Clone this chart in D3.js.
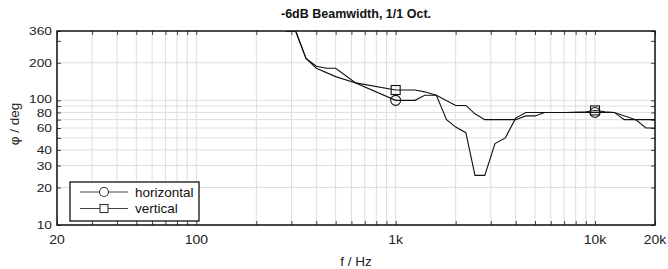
<!DOCTYPE html>
<html><head><meta charset="utf-8">
<script src="https://cdn.jsdelivr.net/npm/d3@7"></script>
<style>body{margin:0;background:#fff}svg{display:block}text{font-family:"Liberation Sans",Arial,sans-serif}</style>
</head><body><svg id="c" width="668" height="269"></svg>
<script>
const title = "-6dB Beamwidth, 1/1 Oct.";
const xLabel = "f / Hz";
const yLabel = "\u03c6 / deg";
const seriesNames = ["horizontal", "vertical"];
const freqH = [280,315,355,400,450,500,630,1000,1250,1400,1600,1800,2000,2250,2500,2800,3150,3550,4000,4500,5000,6300,8000,10000,12500,14000,16000,18000,20000];
const valH  = [360,360,217,188,181,181,138,100,100,110,110,70,61,55,25,25,45,50,72,80,80,80,80,80,80,70,70,60,60];
const freqV = [280,315,355,400,500,630,1000,1250,1400,1600,2000,2250,2500,2800,3150,3550,4000,4500,5000,5600,7100,9000,10000,11200,12500,16000,20000];
const valV  = [360,360,217,181,155,138,121,121,117,110,91,91,78,70,70,70,70,75,75,80,80,81,83,81,80,70,70];
const markerFreqs = [1000, 10000];
const xTickLabels = [[20,"20"],[100,"100"],[1000,"1k"],[10000,"10k"],[20000,"20k"]];
const yTickLabels = [10,20,30,40,60,80,100,200,360];
const xGrid = [20,30,40,50,60,70,80,90,100,200,300,400,500,600,700,800,900,1000,2000,3000,4000,5000,6000,7000,8000,9000,10000,20000];
const yGrid = [10,20,30,40,50,60,70,80,90,100,200];
const yTicks = [10,20,30,40,50,60,70,80,90,100,200,300,360];

const L=57,R=655,T=31,B=225;
const svg=d3.select("#c");
const x=d3.scaleLog().domain([20,20000]).range([L,R]);
const y=d3.scaleLog().domain([10,360]).range([B,T]);

// grid
svg.append("g").selectAll("line").data(xGrid).join("line")
  .attr("x1",d=>x(d)).attr("x2",d=>x(d)).attr("y1",T).attr("y2",B)
  .attr("stroke","#dedede").attr("stroke-width",1);
svg.append("g").selectAll("line").data(yGrid).join("line")
  .attr("x1",L).attr("x2",R).attr("y1",d=>y(d)).attr("y2",d=>y(d))
  .attr("stroke","#dedede").attr("stroke-width",1);

// inward ticks via axes
const tl=4;
svg.append("g").attr("transform",`translate(0,${B})`)
  .call(d3.axisTop(x).tickValues(xGrid).tickSize(tl).tickFormat(""))
  .call(g=>g.select(".domain").remove()).selectAll("line").attr("stroke","#444");
svg.append("g").attr("transform",`translate(0,${T})`)
  .call(d3.axisBottom(x).tickValues(xGrid).tickSize(tl).tickFormat(""))
  .call(g=>g.select(".domain").remove()).selectAll("line").attr("stroke","#444");
svg.append("g").attr("transform",`translate(${L},0)`)
  .call(d3.axisRight(y).tickValues(yTicks).tickSize(tl).tickFormat(""))
  .call(g=>g.select(".domain").remove()).selectAll("line").attr("stroke","#444");
svg.append("g").attr("transform",`translate(${R},0)`)
  .call(d3.axisLeft(y).tickValues(yTicks).tickSize(tl).tickFormat(""))
  .call(g=>g.select(".domain").remove()).selectAll("line").attr("stroke","#444");

// tick labels (wide, short glyphs like the reference)
const nudge=d=>d===100?-1.2:(d===80?0.6:0);
svg.append("g").selectAll("text").data(yTickLabels).join("text")
  .attr("transform",d=>`translate(52,${y(d)+nudge(d)}) scale(1.22,1)`)
  .attr("dy","0.36em").attr("text-anchor","end")
  .attr("font-size",11.3).attr("fill","#222").text(d=>d);
svg.append("g").selectAll("text").data(xTickLabels).join("text")
  .attr("transform",d=>`translate(${x(d[0])},243.5) scale(1.12,1)`).attr("text-anchor","middle")
  .attr("font-size",12.5).attr("fill","#222").text(d=>d[1]);

// clip
svg.append("clipPath").attr("id","clip").append("rect").attr("x",L).attr("y",T).attr("width",R-L).attr("height",B-T);

const line=d3.line().x(d=>x(d[0])).y(d=>y(d[1]));
const dataH=freqH.map((f,i)=>[f,valH[i]]);
const dataV=freqV.map((f,i)=>[f,valV[i]]);
const gl=svg.append("g").attr("clip-path","url(#clip)");
[dataH,dataV].forEach(d=>gl.append("path").datum(d).attr("d",line)
  .attr("fill","none").attr("stroke","#111").attr("stroke-width",1.1));

// markers
const valAt=(data,f)=>data.find(d=>d[0]===f)[1];
markerFreqs.forEach(f=>{
  svg.append("circle").attr("cx",x(f)).attr("cy",y(valAt(dataH,f))).attr("r",5)
    .attr("fill","none").attr("stroke","#111").attr("stroke-width",1.1);
  const s=9;
  svg.append("rect").attr("x",x(f)-s/2).attr("y",y(valAt(dataV,f))-s/2).attr("width",s).attr("height",s)
    .attr("fill","none").attr("stroke","#111").attr("stroke-width",1.1);
});

// frame
svg.append("rect").attr("x",L).attr("y",T).attr("width",R-L).attr("height",B-T)
  .attr("fill","none").attr("stroke","#111").attr("stroke-width",1.5);

// title & labels
svg.append("text").attr("x",(L+R)/2).attr("y",18).attr("text-anchor","middle")
  .attr("font-size",12.5).attr("font-weight","bold").attr("fill","#111").text(title);
svg.append("text").attr("x",(L+R)/2).attr("y",266).attr("text-anchor","middle")
  .attr("font-size",13.5).attr("fill","#222").text(xLabel);
svg.append("text").attr("transform","translate(19,124) rotate(-90)").attr("text-anchor","middle")
  .attr("font-size",13.5).attr("fill","#222").text(yLabel);

// legend
const lg=svg.append("g");
lg.append("rect").attr("x",70).attr("y",182).attr("width",129).attr("height",39)
  .attr("fill","#fff").attr("stroke","#111").attr("stroke-width",1.3);
seriesNames.forEach((n,i)=>{
  const yy=192+i*16.5;
  lg.append("line").attr("x1",80).attr("x2",128).attr("y1",yy).attr("y2",yy).attr("stroke","#444").attr("stroke-width",1.1);
  if(i===0) lg.append("circle").attr("cx",104).attr("cy",yy).attr("r",4.5).attr("fill","#fff").attr("stroke","#333").attr("stroke-width",1.1);
  else lg.append("rect").attr("x",100).attr("y",yy-4).attr("width",8).attr("height",8).attr("fill","#fff").attr("stroke","#333").attr("stroke-width",1.1);
  lg.append("text").attr("x",135).attr("y",yy+4.8).attr("font-size",13.5).attr("fill","#111").text(n);
});
</script></body></html>
